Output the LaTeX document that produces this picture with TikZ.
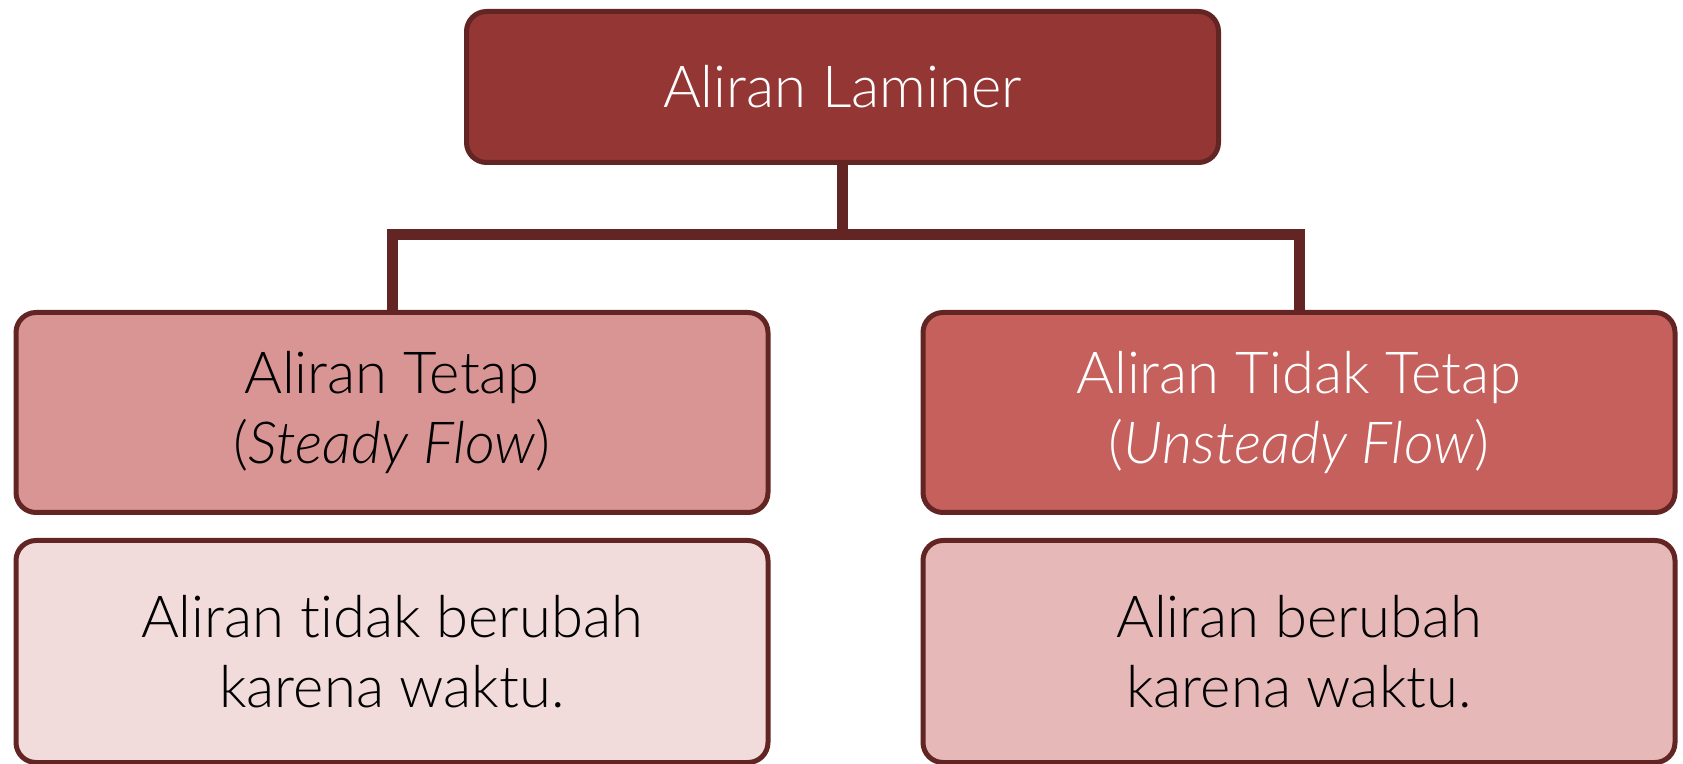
\documentclass[tikz,border=0pt]{standalone}
\usepackage{fontspec}
\setmainfont{Lato Light}[ItalicFont={Lato Light Italic}, Ligatures=NoCommon]
\usepackage{xcolor}
\usepackage{tikz}
\usetikzlibrary{positioning}

\definecolor{edge}{HTML}{632523}
\definecolor{rootred}{HTML}{943634}
\definecolor{steadyred}{HTML}{D99594}
\definecolor{unsteadyred}{HTML}{C5605C}
\definecolor{steadynote}{HTML}{F2DCDB}
\definecolor{unsteadynote}{HTML}{E6B9B8}

\tikzstyle{box} = [rectangle, rounded corners=10pt, line width=2.5pt, draw=edge, minimum width=376pt, align=center, font=\fontsize{29}{35}\selectfont]
\tikzstyle{root} = [box, minimum height=75.5pt, fill=rootred, text=white]
\tikzstyle{kind} = [box, minimum height=100pt]
\tikzstyle{note} = [box, minimum height=111pt]
\tikzstyle{link} = [line width=5.5pt, draw=edge, line join=miter]

\begin{document}
\begin{tikzpicture}[x=0.5pt, y=-0.5pt]
\useasboundingbox (0,0) rectangle (1683,764);

\node (laminer) [root] at (842.5,87) {Aliran Laminer};
\node (tetap) [kind, fill=steadyred] at (392,412.5) {Aliran Tetap\\(\textit{Steady Flow})};
\node (tidaktetap) [kind, fill=unsteadyred, text=white] at (1299,412.5) {Aliran Tidak Tetap\\(\textit{Unsteady Flow})};
\node (tetapnote) [note, fill=steadynote, below=11.5pt of tetap] {Aliran tidak berubah\\karena waktu.};
\node (tidaktetapnote) [note, fill=unsteadynote, below=11.5pt of tidaktetap] {Aliran berubah\\karena waktu.};

% tree branches
\draw [link] (laminer.south) -- ++(0,70) coordinate (split);
\draw [link] (split) -| (tetap.north);
\draw [link] (split) -| (tidaktetap.north);

\end{tikzpicture}
\end{document}
